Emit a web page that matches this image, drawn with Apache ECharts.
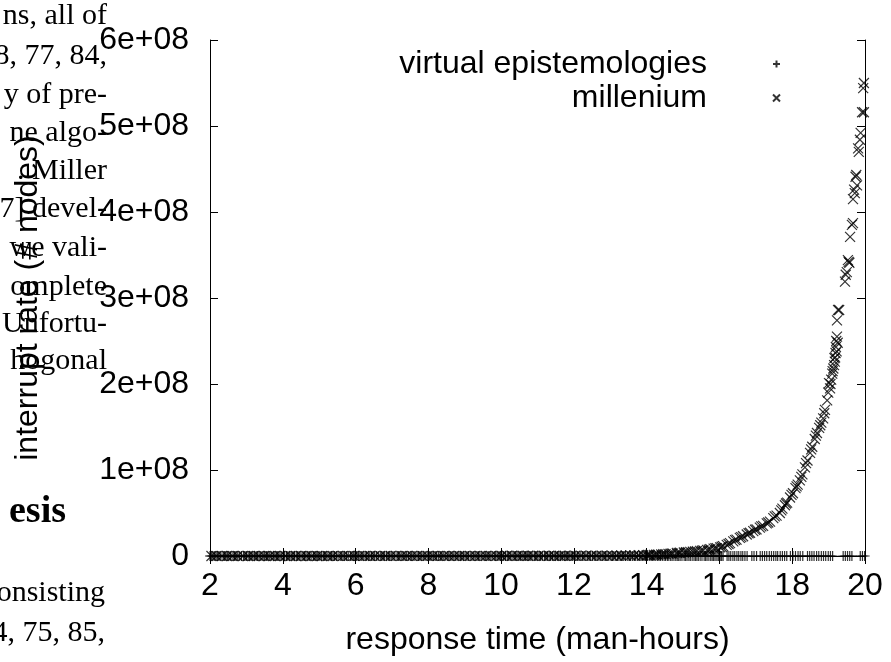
<!DOCTYPE html>
<html>
<head>
<meta charset="utf-8">
<script src="https://cdn.jsdelivr.net/npm/echarts@6/dist/echarts.min.js"></script>
<style>
html, body { margin: 0; padding: 0; background: #fff; }
#main { width: 891px; height: 662px; }
</style>
</head>
<body>
<div id="main"></div>
<script>
// axis ranges (response time, interrupt rate)
var xRange = [2, 20, 2];
var yRange = [0, 6e8, 1e8];

// "virtual epistemologies": all points sit on the zero line
var virtualX = [2.0, 2.04, 2.08, 2.13, 2.17, 2.21, 2.25, 2.3, 2.36, 2.4, 2.44, 2.48, 2.52, 2.57, 2.63, 2.67, 2.71, 2.75, 2.8, 2.86,
    2.92, 2.96, 3.0, 3.05, 3.09, 3.13, 3.18, 3.22, 3.27, 3.31, 3.35, 3.4, 3.46, 3.5, 3.55, 3.59, 3.63, 3.68, 3.74, 3.78, 3.82, 3.86,
    3.9, 3.95, 4.01, 4.05, 4.1, 4.14, 4.19, 4.23, 4.28, 4.32, 4.37, 4.41, 4.45, 4.5, 4.56, 4.6, 4.64, 4.69, 4.73, 4.78, 4.84, 4.88,
    4.92, 4.96, 5.0, 5.06, 5.11, 5.15, 5.19, 5.24, 5.3, 5.34, 5.38, 5.42, 5.47, 5.52, 5.58, 5.62, 5.66, 5.7, 5.75, 5.8, 5.86, 5.9,
    5.94, 5.98, 6.03, 6.08, 6.12, 6.17, 6.21, 6.26, 6.3, 6.35, 6.39, 6.44, 6.48, 6.52, 6.57, 6.62, 6.68, 6.72, 6.76, 6.8, 6.85, 6.9,
    6.94, 6.98, 7.03, 7.08, 7.14, 7.18, 7.22, 7.27, 7.31, 7.36, 7.4, 7.45, 7.5, 7.54, 7.58, 7.63, 7.69, 7.73, 7.77, 7.82, 7.86, 7.91,
    7.97, 8.01, 8.05, 8.1, 8.14, 8.19, 8.23, 8.28, 8.33, 8.37, 8.41, 8.46, 8.52, 8.56, 8.6, 8.65, 8.7, 8.74, 8.79, 8.84, 8.88, 8.92,
    8.97, 9.01, 9.06, 9.1, 9.15, 9.2, 9.25, 9.29, 9.34, 9.38, 9.42, 9.47, 9.53, 9.57, 9.61, 9.66, 9.7, 9.75, 9.81, 9.85, 9.89, 9.94,
    9.98, 10.02, 10.07, 10.12, 10.17, 10.21, 10.25, 10.3, 10.36, 10.4, 10.44, 10.49, 10.53, 10.58, 10.63, 10.67, 10.72, 10.76, 10.8,
    10.85, 10.91, 10.95, 10.99, 11.04, 11.08, 11.13, 11.19, 11.23, 11.27, 11.32, 11.36, 11.41, 11.46, 11.5, 11.55, 11.59, 11.63,
    11.68, 11.74, 11.78, 11.82, 11.87, 11.92, 11.96, 12.01, 12.05, 12.1, 12.14, 12.19, 12.24, 12.28, 12.33, 12.38, 12.42, 12.46,
    12.51, 12.56, 12.6, 12.64, 12.69, 12.74, 12.78, 12.83, 12.87, 12.91, 12.96, 13.02, 13.06, 13.1, 13.15, 13.2, 13.24, 13.29,
    13.33, 13.37, 13.42, 13.48, 13.52, 13.56, 13.61, 13.66, 13.7, 13.75, 13.8, 13.84, 13.88, 13.93, 13.97, 14.02, 14.07, 14.12,
    14.16, 14.2, 14.25, 14.3, 14.34, 14.38, 14.43, 14.48, 14.52, 14.57, 14.61, 14.66, 14.7, 14.75, 14.8, 14.84, 14.88, 14.92,
    14.97, 15.03, 15.07, 15.11, 15.16, 15.2, 15.25, 15.3, 15.34, 15.38, 15.42, 15.47, 15.52, 15.58, 15.62, 15.66, 15.71, 15.76,
    15.8, 15.84, 15.88, 15.93, 15.97, 16.02, 16.06, 16.1,
    16.21, 16.26, 16.31, 16.37, 16.42, 16.48, 16.53, 16.59, 16.64, 16.7, 16.76, 16.89, 16.95, 17.02, 17.12, 17.18, 17.24, 17.3, 17.37,
    17.43, 17.49, 17.55, 17.6, 17.67, 17.73, 17.79, 17.85, 17.95, 18.02, 18.09, 18.16, 18.22, 18.29, 18.42, 18.48, 18.54, 18.6, 18.67,
    18.73, 18.8, 18.86, 18.92, 18.99, 19.05, 19.11, 19.4, 19.46, 19.52, 19.58, 19.64, 19.87, 19.93, 19.99];
var virtualY = 0;

// "millenium": [response time, interrupt rate], flat until ~14 then climbing
var millenium = [
    [2.04, 1.1e4], [2.18, 1.3e4], [2.33, 1.2e4], [2.47, 1.6e4], [2.62, 1.5e4], [2.76, 1.8e4], [2.91, 2.0e4], [3.05, 1.9e4],
    [3.2, 2.3e4], [3.34, 2.2e4], [3.49, 2.6e4], [3.63, 2.9e4], [3.78, 2.7e4], [3.92, 3.1e4], [4.07, 3.4e4], [4.21, 3.3e4],
    [4.36, 3.8e4], [4.5, 4.0e4], [4.65, 4.3e4], [4.79, 4.2e4], [4.94, 4.8e4], [5.08, 5.1e4], [5.23, 5.0e4], [5.37, 5.6e4],
    [5.52, 6.0e4], [5.66, 6.3e4], [5.81, 6.1e4], [5.95, 6.9e4], [6.1, 7.4e4], [6.24, 7.2e4], [6.39, 8.0e4], [6.53, 8.6e4],
    [6.68, 8.4e4], [6.82, 9.2e4], [6.97, 9.9e4], [7.11, 1.05e5], [7.26, 1.02e5], [7.4, 1.12e5], [7.55, 1.2e5], [7.69, 1.28e5],
    [7.84, 1.25e5], [7.98, 1.36e5], [8.13, 1.45e5], [8.27, 1.52e5], [8.42, 1.5e5], [8.56, 1.63e5], [8.71, 1.72e5], [8.85, 1.8e5],
    [9.0, 1.78e5], [9.14, 1.9e5], [9.29, 2.0e5], [9.43, 2.1e5], [9.58, 2.08e5], [9.72, 2.2e5], [9.87, 2.3e5], [10.01, 2.42e5],
    [10.16, 2.4e5], [10.3, 2.52e5], [10.45, 2.63e5], [10.59, 2.75e5], [10.74, 2.72e5], [10.88, 2.85e5], [11.03, 2.96e5],
    [11.17, 3.08e5], [11.32, 3.05e5], [11.46, 3.2e5], [11.61, 3.33e5], [11.75, 3.45e5], [11.9, 3.42e5], [12.04, 3.58e5],
    [12.19, 3.7e5], [12.33, 3.85e5], [12.48, 3.82e5], [12.62, 3.98e5], [12.77, 4.1e5], [12.91, 4.25e5],
    [13.05, 4.4e5], [13.18, 5e5], [13.3, 5.6e5], [13.42, 6.1e5], [13.55, 7e5], [13.66, 7.6e5], [13.78, 8.5e5], [13.9, 9.6e5],
    [14.0, 1.05e6], [14.05, 1.3e6], [14.09, 1.2e6], [14.2, 1.35e6], [14.26, 1.5e6], [14.31, 1.6e6], [14.4, 1.8e6], [14.46, 2.0e6],
    [14.52, 2.1e6], [14.6, 2.4e6], [14.66, 2.7e6], [14.71, 2.9e6], [14.83, 3.5e6], [14.88, 3.6e6], [14.92, 3.8e6], [15.02, 4.1e6],
    [15.08, 4.4e6], [15.13, 4.5e6], [15.2, 4.8e6], [15.27, 5.0e6], [15.33, 5.4e6], [15.38, 5.6e6], [15.47, 6.0e6], [15.52, 6.3e6],
    [15.56, 6.5e6], [15.66, 7.0e6], [15.71, 7.5e6], [15.75, 7.8e6], [15.84, 8.5e6], [15.89, 9.0e6], [15.93, 9.2e6], [16.02, 1.0e7],
    [16.06, 1.08e7], [16.1, 1.15e7], [16.2, 1.3e7], [16.25, 1.4e7], [16.29, 1.5e7], [16.38, 1.7e7], [16.43, 1.85e7], [16.47, 1.9e7],
    [16.56, 2.1e7], [16.6, 2.2e7], [16.65, 2.3e7], [16.75, 2.5e7], [16.8, 2.65e7], [16.84, 2.7e7], [16.93, 2.9e7], [16.98, 3.05e7],
    [17.02, 3.1e7], [17.11, 3.3e7], [17.15, 3.45e7], [17.2, 3.5e7], [17.3, 3.8e7], [17.34, 3.9e7], [17.39, 4.0e7], [17.48, 4.4e7],
    [17.52, 4.6e7], [17.57, 4.7e7], [17.66, 5.0e7], [17.7, 5.3e7], [17.73, 5.5e7], [17.8, 5.9e7], [17.83, 6.1e7], [17.86, 6.2e7],
    [17.94, 6.8e7], [17.98, 7.1e7], [18.02, 7.3e7], [18.09, 7.9e7], [18.12, 8.1e7], [18.15, 8.3e7], [18.21, 8.8e7], [18.25, 9.2e7],
    [18.28, 9.5e7], [18.35, 1.03e8], [18.38, 1.08e8], [18.42, 1.11e8], [18.49, 1.2e8], [18.52, 1.24e8], [18.55, 1.27e8],
    [18.62, 1.36e8], [18.65, 1.4e8], [18.68, 1.43e8], [18.74, 1.49e8], [18.77, 1.52e8], [18.8, 1.55e8], [18.85, 1.6e8],
    [18.88, 1.66e8], [18.9, 1.7e8], [18.96, 1.81e8], [18.99, 1.9e8], [19.01, 2.01e8], [19.04, 1.95e8], [19.05, 2.0e8],
    [19.07, 2.05e8], [19.1, 2.12e8], [19.11, 2.15e8], [19.13, 2.18e8], [19.15, 2.22e8], [19.16, 2.3e8], [19.17, 2.26e8],
    [19.18, 2.31e8], [19.19, 2.36e8], [19.2, 2.43e8], [19.21, 2.5e8], [19.22, 2.38e8], [19.23, 2.55e8], [19.25, 2.48e8],
    [19.23, 2.74e8], [19.26, 2.86e8], [19.29, 2.86e8], [19.45, 3.19e8], [19.47, 3.27e8], [19.5, 3.3e8], [19.53, 3.44e8],
    [19.55, 3.42e8], [19.57, 3.41e8], [19.59, 3.71e8], [19.64, 3.85e8], [19.67, 3.87e8], [19.67, 4.15e8], [19.7, 4.26e8],
    [19.72, 4.22e8], [19.74, 4.41e8], [19.78, 4.31e8], [19.76, 4.43e8], [19.81, 4.74e8], [19.83, 4.7e8], [19.86, 4.84e8],
    [19.88, 4.92e8], [19.92, 5.16e8], [19.95, 5.44e8], [19.97, 5.5e8], [19.97, 5.16e8]
];

// text of the paper page that shows behind the figure
var pageLines = ['ns, all of', '8, 77, 84,', 'y of pre-', 'ne algo-', '. Miller', '7] devel-', 'we vali-', 'omplete', 'Unfortu-', 'hogonal'];
var pageLinesY = [16, 56, 95, 133, 171, 209, 248, 287, 324, 361];
var pageLower = ['onsisting', '4, 75, 85,'];
var pageLowerY = [593, 633];

var SANS = '"Liberation Sans", Arial, Helvetica, sans-serif';
var SERIF = '"Liberation Serif", "DejaVu Serif", serif';

var virtualData = [];
for (var i = 0; i < virtualX.length; i++) {
    virtualData.push([virtualX[i], virtualY]);
}

var graphics = [];
for (var k = 0; k < pageLines.length; k++) {
    graphics.push({ type: 'text', silent: true, z: -10, style: {
        text: pageLines[k], x: 107, y: pageLinesY[k], textAlign: 'right', textVerticalAlign: 'middle',
        font: '30px ' + SERIF, fill: '#000' } });
}
graphics.push({ type: 'text', silent: true, z: -10, style: {
    text: 'esis', x: 66, y: 512, textAlign: 'right', textVerticalAlign: 'middle',
    font: 'bold 38px ' + SERIF, fill: '#000' } });
for (var m = 0; m < pageLower.length; m++) {
    graphics.push({ type: 'text', silent: true, z: -10, style: {
        text: pageLower[m], x: 105, y: pageLowerY[m], textAlign: 'right', textVerticalAlign: 'middle',
        font: '30px ' + SERIF, fill: '#000' } });
}

function yFmt(v) {
    if (v === 0) return '0';
    return (v / 1e8) + 'e+08';
}

var axisLine = { show: true, lineStyle: { color: '#000', width: 1 } };
var tickIn = { show: true, inside: true, length: 8, lineStyle: { color: '#000', width: 1 } };
var legendText = { fontFamily: SANS, fontSize: 32, color: '#000', padding: [0, 61, 0, 0] };
var markStyle = { color: '#000', borderColor: '#000', borderWidth: 1.2 };

var chart = echarts.init(document.getElementById('main'), null, { renderer: 'canvas' });
chart.setOption({
    animation: false,
    backgroundColor: '#fff',
    graphic: graphics,
    grid: { left: 210, right: 26, top: 40, bottom: 106, outerBoundsMode: 'none' },
    legend: [
        { data: ['virtual epistemologies'], right: 110, top: 48, orient: 'vertical', align: 'right',
          itemWidth: 7, itemHeight: 7, padding: 0, selectedMode: false, textStyle: legendText },
        { data: ['millenium'], right: 110, top: 82, orient: 'vertical', align: 'right',
          itemWidth: 7, itemHeight: 7, padding: 0, selectedMode: false, textStyle: legendText }
    ],
    xAxis: [
        { type: 'value', position: 'bottom', min: xRange[0], max: xRange[1], interval: xRange[2],
          name: 'response time (man-hours)', nameLocation: 'middle', nameGap: 68, nameMoveOverlap: false,
          nameTextStyle: { fontFamily: SANS, fontSize: 32, color: '#000' },
          axisLine: axisLine, axisTick: tickIn, splitLine: { show: false },
          axisLabel: { fontFamily: SANS, fontSize: 32, color: '#000', margin: 14 } },
        { type: 'value', position: 'top', min: xRange[0], max: xRange[1], interval: xRange[2],
          axisLine: axisLine, axisTick: tickIn, splitLine: { show: false }, axisLabel: { show: false } }
    ],
    yAxis: [
        { type: 'value', position: 'left', min: yRange[0], max: yRange[1], interval: yRange[2],
          name: 'interrupt rate (# nodes)', nameLocation: 'middle', nameGap: 166, nameMoveOverlap: false,
          nameTextStyle: { fontFamily: SANS, fontSize: 32, color: '#000' },
          axisLine: axisLine, axisTick: tickIn, splitLine: { show: false },
          axisLabel: { fontFamily: SANS, fontSize: 32, color: '#000', margin: 21, formatter: yFmt } },
        { type: 'value', position: 'right', min: yRange[0], max: yRange[1], interval: yRange[2],
          axisLine: axisLine, axisTick: tickIn, splitLine: { show: false }, axisLabel: { show: false } }
    ],
    series: [
        { name: 'virtual epistemologies', type: 'scatter', xAxisIndex: 0, yAxisIndex: 0, clip: false,
          symbol: 'path://M5,0L5,10M0,5L10,5', symbolSize: 10, itemStyle: markStyle,
          emphasis: { disabled: true }, data: virtualData },
        { name: 'millenium', type: 'scatter', xAxisIndex: 0, yAxisIndex: 0, clip: false,
          symbol: 'path://M0,0L10,10M10,0L0,10', symbolSize: 10, itemStyle: markStyle,
          emphasis: { disabled: true }, data: millenium }
    ]
});
</script>
</body>
</html>
